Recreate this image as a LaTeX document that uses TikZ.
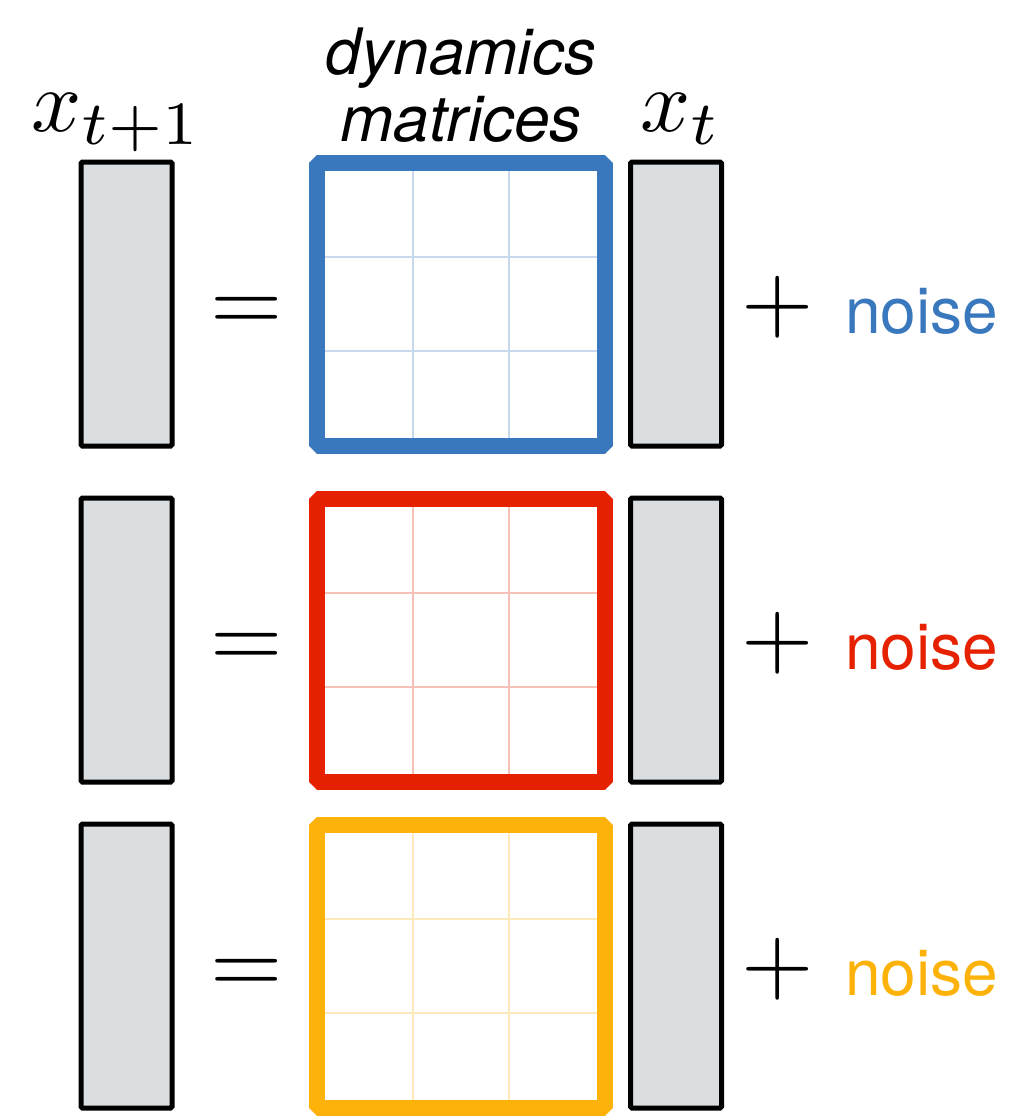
\documentclass[tikz,border=0pt]{standalone}
\usepackage{fontspec}
\setsansfont{TeX Gyre Heros}
\usetikzlibrary{calc,positioning}

\definecolor{dynblue}{RGB}{58,120,190}
\definecolor{dynred}{RGB}{229,33,0}
\definecolor{dynyellow}{RGB}{253,178,10}
\definecolor{vecgray}{RGB}{219,222,225}

\begin{document}
\begin{tikzpicture}[
  x=1pt, y=-1pt,
  vec/.style={rectangle, draw=black, fill=vecgray, line width=5pt,
              rounded corners=1.5pt, minimum width=91pt, minimum height=284pt,
              inner sep=0pt},
  dyn/.style={rectangle, draw=#1, fill=white, line width=16pt, line join=bevel,
              minimum width=288pt, minimum height=283pt, inner sep=0pt,
              path picture={
                \foreach \f in {1,2} {
                  \draw[draw=#1!28, line width=2.5pt]
                    ($(path picture bounding box.north west)!\f/3!(path picture bounding box.north east)$) --
                    ($(path picture bounding box.south west)!\f/3!(path picture bounding box.south east)$);
                  \draw[draw=#1!28, line width=2.5pt]
                    ($(path picture bounding box.north west)!\f/3!(path picture bounding box.south west)$) --
                    ($(path picture bounding box.north east)!\f/3!(path picture bounding box.south east)$);
                }
              }},
  op/.style={inner sep=0pt, anchor=base},
  noisetxt/.style={font=\fontsize{64}{64}\selectfont\sffamily, text=#1,
                   inner sep=0pt, anchor=base west},
  head/.style={inner sep=0pt, anchor=base west},
  matlabel/.style={font=\fontsize{64}{67}\selectfont\sffamily\itshape, align=center,
              inner sep=0pt, anchor=south},
]
\useasboundingbox (0,0) rectangle (1009,1116);

% columns: x_{t+1}, =, matrix, x_t, +, noise
\def\colA{126.5}
\def\colB{247}
\def\colC{461}
\def\colD{676}
\def\colE{778}
\def\colF{845}

% #1 row id, #2 y of the row centre, #3 colour
\newcommand{\dynrow}[3]{%
  \node[vec] (#1next) at (\colA,#2) {};
  \node[op] (#1eq) at (\colB,{#2+27}) {\scalebox{9.3}{$=$}};
  \node[dyn=#3] (#1mat) at (\colC,#2) {};
  \node[vec] (#1cur) at (\colD,#2) {};
  \node[op] (#1plus) at (\colE,{#2+26}) {\scalebox{9.3}{$+$}};
  \node[noisetxt=#3] (#1noise) at (\colF,{#2+29}) {noise};
}

\dynrow{rA}{304}{dynblue}
\dynrow{rB}{640}{dynred}
\dynrow{rC}{966}{dynyellow}

% headers above the first row
\node[head] (hnext) at (31,131) {\scalebox{8.8}{$x_{t+1}$}};
\node[matlabel] (hmat) at (\colC,143) {dynamics\\matrices};
\node[head] (hcur) at (640,131) {\scalebox{8.8}{$x_t$}};

\end{tikzpicture}
\end{document}
